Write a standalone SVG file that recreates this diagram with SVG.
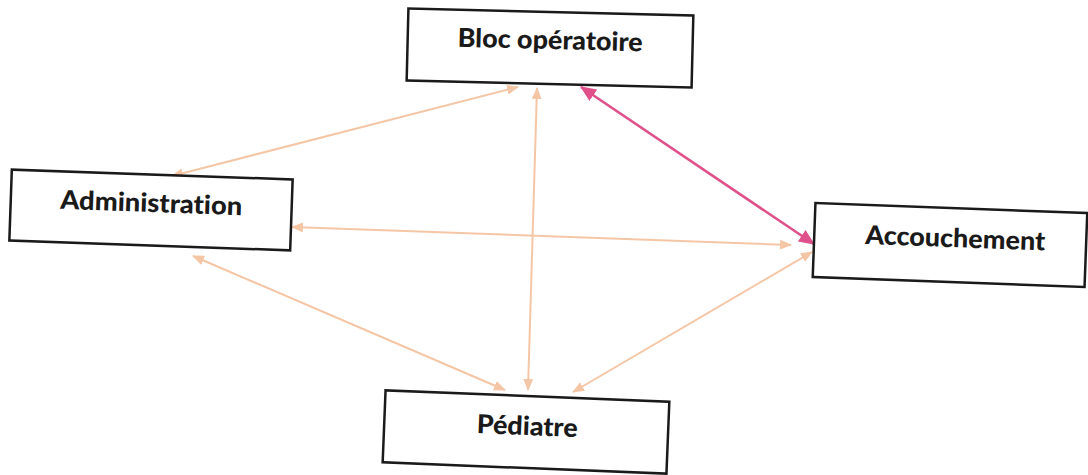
<svg xmlns="http://www.w3.org/2000/svg" width="1088" height="475" viewBox="0 0 1088 475">
  <style>
    .box { fill: #ffffff; stroke: #1a1a1a; stroke-width: 2.5; }
    .lbl { font-family: Lato, "Open Sans", "Liberation Sans", sans-serif; font-weight: 900; font-size: 26px; fill: #1a1a1a; text-anchor: middle; font-variant-ligatures: none; font-feature-settings: "liga" 0, "dlig" 0; }
    .link { fill: none; stroke: #f5c6a6; stroke-width: 2; }
    .link-main { fill: none; stroke: #e0508a; stroke-width: 2.6; }
  </style>
  <defs>
    <marker id="head" viewBox="0 0 12 10" refX="11" refY="5" markerWidth="12" markerHeight="10" markerUnits="userSpaceOnUse" orient="auto-start-reverse">
      <path d="M0,0 L12,5 L0,10 Z" fill="#f5c6a6"/>
    </marker>
    <marker id="head-main" viewBox="0 0 14 12" refX="13" refY="6" markerWidth="16" markerHeight="14" markerUnits="userSpaceOnUse" orient="auto-start-reverse">
      <path d="M0,0 L14,6 L0,12 Z" fill="#e0508a"/>
    </marker>
  </defs>

  <g id="connectors">
    <line class="link" x1="172" y1="176" x2="518" y2="87" marker-start="url(#head)" marker-end="url(#head)"/>
    <line class="link" x1="537" y1="88" x2="528" y2="390" marker-start="url(#head)" marker-end="url(#head)"/>
    <line class="link" x1="292" y1="227" x2="791" y2="245" marker-start="url(#head)" marker-end="url(#head)"/>
    <line class="link" x1="193" y1="256" x2="505" y2="390" marker-start="url(#head)" marker-end="url(#head)"/>
    <line class="link" x1="812" y1="252" x2="573" y2="392" marker-start="url(#head)" marker-end="url(#head)"/>
    <line class="link-main" x1="581" y1="87" x2="814" y2="244" marker-start="url(#head-main)" marker-end="url(#head-main)"/>
  </g>

  <g id="bloc" transform="rotate(1.4 550 48)">
    <rect class="box" x="407.5" y="12" width="285" height="72"/>
    <text class="lbl" x="550" y="49" textLength="185" lengthAdjust="spacingAndGlyphs">Bloc opératoire</text>
  </g>

  <g id="administration" transform="rotate(2 151 210)">
    <rect class="box" x="10.5" y="174.5" width="281" height="71"/>
    <text class="lbl" x="151" y="212" textLength="182" lengthAdjust="spacingAndGlyphs">Administration</text>
  </g>

  <g id="accouchement" transform="rotate(2.1 950 245)">
    <rect class="box" x="814" y="208" width="272" height="74"/>
    <text class="lbl" x="955" y="247" textLength="180" lengthAdjust="spacingAndGlyphs">Accouchement</text>
  </g>

  <g id="pediatre" transform="rotate(2.3 526 432)">
    <rect class="box" x="384" y="396" width="284" height="72"/>
    <text class="lbl" x="527" y="435" textLength="101" lengthAdjust="spacingAndGlyphs">Pédiatre</text>
  </g>
</svg>
